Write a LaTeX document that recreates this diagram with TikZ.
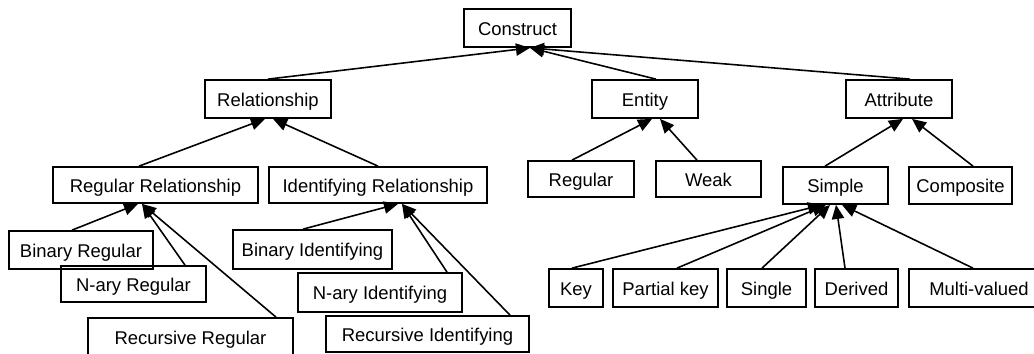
\documentclass[tikz,border=0pt]{standalone}
\usepackage{fontspec}
\setmainfont{Liberation Sans}
\usetikzlibrary{arrows.meta}

\begin{document}
\begin{tikzpicture}

% Define box and arrow style
\tikzstyle{cbox} =[draw, line width=1pt, minimum height=0.74cm,
                   inner sep=0pt, text height=8.5pt, text depth=0.5pt,
                   font=\fontsize{10.5}{12}\selectfont]
\tikzstyle{isa} =[line width=0.9pt, -{Triangle[length=8pt,width=7pt]}]

\useasboundingbox (0,0) rectangle (20.68,-7.06);

% top levels
\node[cbox, minimum width=2.14cm, minimum height=0.76cm] (construct) at (10.35,-0.56) {Construct};
\node[cbox, minimum width=2.52cm, minimum height=0.76cm] (rel) at (5.36,-1.98) {Relationship};
\node[cbox, minimum width=2.12cm, minimum height=0.76cm] (entity) at (12.90,-1.98) {Entity};
\node[cbox, minimum width=2.12cm, minimum height=0.76cm] (attr) at (17.98,-1.98) {Attribute};

\node[cbox, minimum width=4.10cm, minimum height=0.72cm] (regrel) at (3.11,-3.70) {Regular Relationship};
\node[cbox, minimum width=4.36cm, minimum height=0.72cm] (idrel) at (7.56,-3.70) {Identifying Relationship};
\node[cbox, minimum width=2.12cm, minimum height=0.72cm] (regular) at (11.62,-3.58) {Regular};
\node[cbox, minimum width=2.10cm, minimum height=0.72cm] (weak) at (14.17,-3.58) {Weak};
\node[cbox, minimum width=2.10cm] (simple) at (16.71,-3.71) {Simple};
\node[cbox, minimum width=2.06cm] (composite) at (19.21,-3.71) {Composite};

% leaves
\node[cbox, minimum width=2.88cm, minimum height=0.76cm] (binreg) at (1.62,-5.00) {Binary Regular};
\node[cbox, minimum width=2.90cm, minimum height=0.72cm] (nreg) at (2.67,-5.68) {N-ary Regular};
\node[cbox, minimum width=4.10cm, minimum height=0.76cm] (recreg) at (3.81,-6.74) {Recursive Regular};
\node[cbox, minimum width=3.18cm, minimum height=0.78cm] (binid) at (6.25,-4.99) {Binary Identifying};
\node[cbox, minimum width=3.28cm, minimum height=0.78cm] (nid) at (7.60,-5.85) {N-ary Identifying};
\node[cbox, minimum width=4.06cm, minimum height=0.72cm] (recid) at (8.55,-6.68) {Recursive Identifying};

\node[cbox, minimum width=1.08cm, minimum height=0.76cm] (key) at (11.52,-5.76) {Key};
\node[cbox, minimum width=2.10cm, minimum height=0.76cm] (pkey) at (13.31,-5.76) {Partial key};
\node[cbox, minimum width=1.58cm, minimum height=0.76cm] (single) at (15.33,-5.76) {Single};
\node[cbox, minimum width=1.66cm, minimum height=0.76cm] (derived) at (17.13,-5.76) {Derived};
\node[cbox, minimum width=2.80cm, minimum height=0.76cm] (multi) at (19.58,-5.76) {Multi-valued};

% child / shift / parent / shift
\foreach \c/\sc/\p/\sp in {rel/0/construct/0.25, entity/0.22/construct/0.25,
    attr/0.22/construct/0.25, regrel/-0.33/rel/-0.06, idrel/0/rel/0.10,
    regular/-0.18/entity/0.14, weak/-0.23/entity/0.30,
    simple/-0.21/attr/0.08, composite/0.25/attr/0.26}{
  \draw[isa] ([xshift=\sc cm]\c.north) -- ([xshift=\sp cm]\p.south);
}
\foreach \c/\sc/\p/\sp in {binreg/-0.18/regrel/-0.35, nreg/1.03/regrel/-0.27,
    recreg/1.71/regrel/-0.27, binid/-0.19/idrel/0.40, nid/1.34/idrel/0.48,
    recid/1.65/idrel/0.48}{
  \draw[isa] ([xshift=\sc cm]\c.north) -- ([xshift=\sp cm]\p.south);
}
\foreach \c/\sc/\sp in {key/-0.08/-0.27, pkey/0.23/-0.19, single/-0.09/-0.11,
    derived/-0.23/0.01, multi/-0.12/0.13}{
  \draw[isa] ([xshift=\sc cm]\c.north) -- ([xshift=\sp cm]simple.south);
}

\end{tikzpicture}
\end{document}
